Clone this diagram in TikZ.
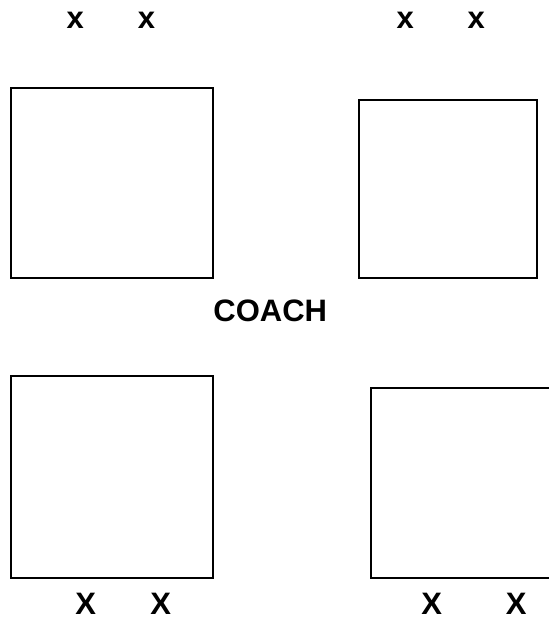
\documentclass[tikz,border=0pt]{standalone}
\usepackage{fontspec}
\setmainfont{Liberation Sans}
\usepackage{tikz}
\tikzset{
  % Court box: empty square
  court/.style={
    rectangle, draw=black, line width=1.8pt,
    anchor=north west, inner sep=0pt,
    minimum width=#1
  },
  % Player letter
  plyr/.style={
    anchor=base, inner sep=0pt,
    font=\fontsize{31}{31}\selectfont\bfseries
  },
  % Coach caption
  ttl/.style={
    anchor=base, inner sep=0pt,
    font=\fontsize{31}{31}\selectfont\bfseries
  }
}
\begin{document}
\begin{tikzpicture}[x=1pt, y=-1pt]

  \useasboundingbox (0,0) rectangle (549,619);

  % Top courts
  \node[court=202pt, minimum height=190pt] (tl) at (10,87) {};
  \node[court=178pt, minimum height=178pt] (tr) at (358,99) {};

  % Bottom courts
  \node[court=202pt, minimum height=202pt] (bl) at (10,375) {};
  \node[court=182pt, minimum height=190pt] (br) at (370,387) {};

  % Players above
  \node[plyr] (ta) at (75.3,28.3) {x};
  \node[plyr] (tb) at (146.5,28.3) {x};
  \node[plyr] (tc) at (405.2,28.3) {x};
  \node[plyr] (td) at (476.2,28.3) {x};

  % Coach
  \node[ttl] (coach) at (270.3,321.3) {COACH};

  % Players below
  \node[plyr] (ba) at (85.8,614.5) {X};
  \node[plyr] (bb) at (160.8,614.5) {X};
  \node[plyr] (bc) at (431.7,614.5) {X};
  \node[plyr] (bd) at (516.2,614.5) {X};

\end{tikzpicture}
\end{document}
